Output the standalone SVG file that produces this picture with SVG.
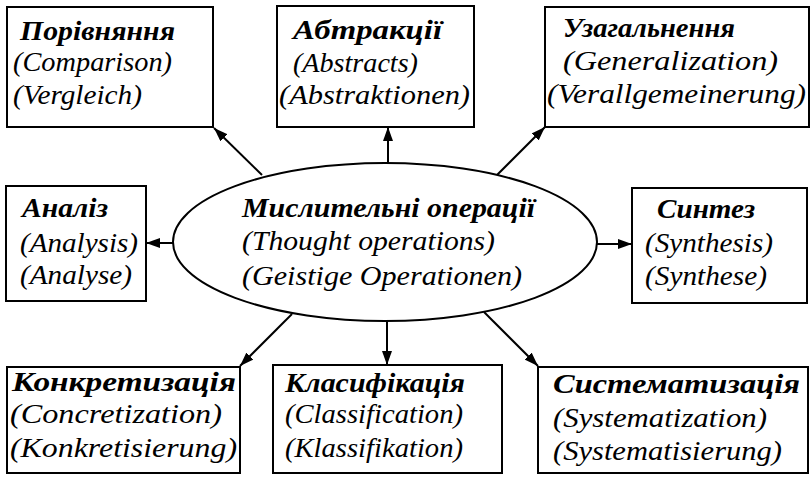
<svg xmlns="http://www.w3.org/2000/svg" width="811" height="478" viewBox="0 0 811 478">
<defs>
<marker id="ah" viewBox="0 0 14 10" refX="14" refY="5" markerWidth="14" markerHeight="10" markerUnits="userSpaceOnUse" orient="auto">
<path d="M0,0 L14,5 L0,10 Z" fill="#000"/>
</marker>
<style>
.box{fill:#fff;stroke:#000;stroke-width:2}
text{font-size:28px;font-style:italic;fill:#000}
.b{font-weight:bold}
.c{stroke:#000;stroke-width:2;fill:none;marker-end:url(#ah)}
</style>
</defs>
<rect width="811" height="478" fill="#fff"/>
<g id="connectors">
<line class="c" x1="262" y1="175" x2="214" y2="128"/>
<line class="c" x1="388" y1="163" x2="388" y2="127"/>
<line class="c" x1="497" y1="175" x2="545" y2="127"/>
<line class="c" x1="173" y1="243" x2="146" y2="243"/>
<line class="c" x1="597" y1="244" x2="632" y2="244"/>
<line class="c" x1="292" y1="314" x2="240" y2="366"/>
<line class="c" x1="387" y1="321" x2="387" y2="365"/>
<line class="c" x1="484" y1="312" x2="538" y2="366"/>
</g>
<g font-family="Liberation Serif, Times New Roman, Tinos, Noto Serif, DejaVu Serif, serif" lengthAdjust="spacingAndGlyphs">
<g id="center">
<ellipse cx="385" cy="242" rx="212" ry="79" fill="#fff" stroke="#000" stroke-width="2"/>
<text class="b" x="242" y="217" textLength="293" lengthAdjust="spacingAndGlyphs">Мислительні операції</text>
<text x="242" y="250" textLength="253" lengthAdjust="spacingAndGlyphs">(Thought operations)</text>
<text x="242" y="285" textLength="280" lengthAdjust="spacingAndGlyphs">(Geistige Operationen)</text>
</g>
<g id="comparison">
<rect class="box" x="7" y="7" width="206" height="120"/>
<text class="b" x="20" y="40" textLength="155" lengthAdjust="spacingAndGlyphs">Порівняння</text>
<text x="13" y="71" textLength="159" lengthAdjust="spacingAndGlyphs">(Comparison)</text>
<text x="13" y="104" textLength="129" lengthAdjust="spacingAndGlyphs">(Vergleich)</text>
</g>
<g id="abstracts">
<rect class="box" x="277" y="6" width="197" height="121"/>
<text class="b" x="293" y="39" textLength="149" lengthAdjust="spacingAndGlyphs">Абтракції</text>
<text x="293" y="72" textLength="125" lengthAdjust="spacingAndGlyphs">(Abstracts)</text>
<text x="279" y="104" textLength="191" lengthAdjust="spacingAndGlyphs">(Abstraktionen)</text>
</g>
<g id="generalization">
<rect class="box" x="545" y="7" width="264" height="120"/>
<text class="b" x="563" y="37" textLength="172" lengthAdjust="spacingAndGlyphs">Узагальнення</text>
<text x="563" y="70" textLength="215" lengthAdjust="spacingAndGlyphs">(Generalization)</text>
<text x="547" y="103" textLength="259" lengthAdjust="spacingAndGlyphs">(Verallgemeinerung)</text>
</g>
<g id="analysis">
<rect class="box" x="6" y="186" width="140" height="115"/>
<text class="b" x="22" y="217" textLength="86" lengthAdjust="spacingAndGlyphs">Аналіз</text>
<text x="20" y="252" textLength="118" lengthAdjust="spacingAndGlyphs">(Analysis)</text>
<text x="20" y="284" textLength="112" lengthAdjust="spacingAndGlyphs">(Analyse)</text>
</g>
<g id="synthesis">
<rect class="box" x="632" y="188" width="175" height="115"/>
<text class="b" x="657" y="218" textLength="98" lengthAdjust="spacingAndGlyphs">Синтез</text>
<text x="645" y="252" textLength="128" lengthAdjust="spacingAndGlyphs">(Synthesis)</text>
<text x="645" y="285" textLength="122" lengthAdjust="spacingAndGlyphs">(Synthese)</text>
</g>
<g id="concretization">
<rect class="box" x="7" y="367" width="233" height="106"/>
<text class="b" x="12" y="391" textLength="224" lengthAdjust="spacingAndGlyphs">Конкретизація</text>
<text x="10" y="423" textLength="212" lengthAdjust="spacingAndGlyphs">(Concretization)</text>
<text x="10" y="457" textLength="227" lengthAdjust="spacingAndGlyphs">(Konkretisierung)</text>
</g>
<g id="classification">
<rect class="box" x="273" y="365" width="229" height="108"/>
<text class="b" x="285" y="392" textLength="180" lengthAdjust="spacingAndGlyphs">Класифікація</text>
<text x="285" y="423" textLength="178" lengthAdjust="spacingAndGlyphs">(Classification)</text>
<text x="285" y="457" textLength="178" lengthAdjust="spacingAndGlyphs">(Klassifikation)</text>
</g>
<g id="systematization">
<rect class="box" x="538" y="367" width="270" height="106"/>
<text class="b" x="553" y="393" textLength="247" lengthAdjust="spacingAndGlyphs">Систематизація</text>
<text x="553" y="427" textLength="214" lengthAdjust="spacingAndGlyphs">(Systematization)</text>
<text x="553" y="460" textLength="229" lengthAdjust="spacingAndGlyphs">(Systematisierung)</text>
</g>
</g>
</svg>
